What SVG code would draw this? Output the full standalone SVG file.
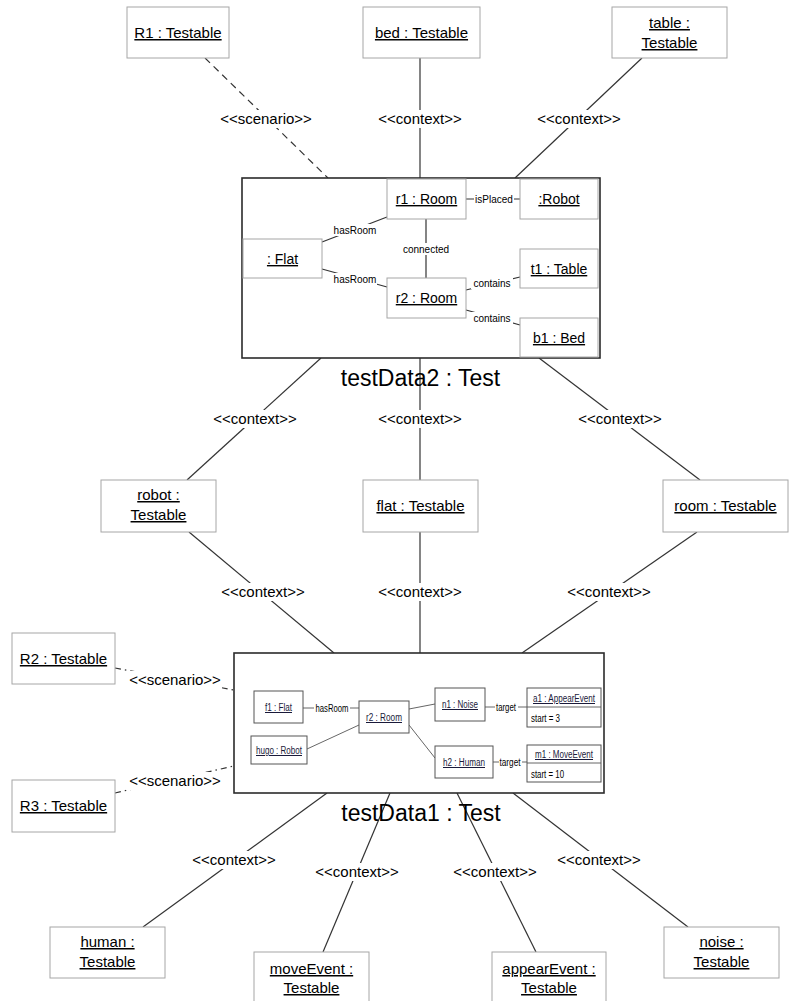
<svg xmlns="http://www.w3.org/2000/svg" width="798" height="1001" viewBox="0 0 798 1001">
<style>
text{font-family:"Liberation Sans",Arial,sans-serif;fill:#000;text-anchor:middle}
.obj{fill:#fff;stroke:#a6a6a6;stroke-width:1}
.big{fill:#fff;stroke:#2b2b2b;stroke-width:1.6}
.tn{font-size:15px;text-decoration:underline}
.in{font-size:14px;text-decoration:underline}
.st{font-size:15px}
.sm{font-size:10px}
.ln{stroke:#333;stroke-width:1.2;fill:none}
.dash{stroke:#333;stroke-width:1.2;fill:none;stroke-dasharray:7 5}
.dd{stroke:#333;stroke-width:1.2;fill:none;stroke-dasharray:6 4 1.5 4}
.bg{fill:#fff}
.title{font-size:23px}
.mini{fill:#fff;stroke:#555;stroke-width:1}
.mt{font-size:10px;text-decoration:underline;fill:#1a1a3a}
.ml{font-size:10px}
.mln{stroke:#555;stroke-width:0.9;fill:none}
</style>

<!-- connectors between testables and tests -->
<g id="connectors">
  <line class="dash" x1="205" y1="58" x2="328" y2="178"/>
  <line class="ln" x1="420" y1="58" x2="420" y2="178"/>
  <line class="ln" x1="642" y1="58" x2="515" y2="178"/>
  <rect class="bg" x="219" y="110" width="94" height="18"/>
  <rect class="bg" x="378" y="110" width="84" height="18"/>
  <rect class="bg" x="537" y="110" width="84" height="18"/>
  <text class="st" x="266" y="124">&lt;&lt;scenario&gt;&gt;</text>
  <text class="st" x="420" y="124">&lt;&lt;context&gt;&gt;</text>
  <text class="st" x="579" y="124">&lt;&lt;context&gt;&gt;</text>

  <line class="ln" x1="321" y1="358" x2="187" y2="480"/>
  <line class="ln" x1="420" y1="358" x2="420" y2="480"/>
  <line class="ln" x1="539" y1="358" x2="700" y2="480"/>
  <rect class="bg" x="213" y="410" width="84" height="18"/>
  <rect class="bg" x="378" y="410" width="84" height="18"/>
  <rect class="bg" x="578" y="410" width="84" height="18"/>
  <text class="st" x="255" y="424">&lt;&lt;context&gt;&gt;</text>
  <text class="st" x="420" y="424">&lt;&lt;context&gt;&gt;</text>
  <text class="st" x="620" y="424">&lt;&lt;context&gt;&gt;</text>

  <line class="ln" x1="189" y1="532" x2="334" y2="653"/>
  <line class="ln" x1="420" y1="532" x2="420" y2="653"/>
  <line class="ln" x1="697" y1="532" x2="522" y2="653"/>
  <rect class="bg" x="221" y="583" width="84" height="18"/>
  <rect class="bg" x="378" y="583" width="84" height="18"/>
  <rect class="bg" x="567" y="583" width="84" height="18"/>
  <text class="st" x="263" y="597">&lt;&lt;context&gt;&gt;</text>
  <text class="st" x="420" y="597">&lt;&lt;context&gt;&gt;</text>
  <text class="st" x="609" y="597">&lt;&lt;context&gt;&gt;</text>

  <line class="dd" x1="115" y1="668" x2="234" y2="690"/>
  <line class="dd" x1="115" y1="793" x2="234" y2="766"/>
  <rect class="bg" x="128" y="671" width="94" height="18"/>
  <rect class="bg" x="128" y="772" width="94" height="18"/>
  <text class="st" x="175" y="685">&lt;&lt;scenario&gt;&gt;</text>
  <text class="st" x="175" y="786">&lt;&lt;scenario&gt;&gt;</text>

  <line class="ln" x1="327" y1="793" x2="143" y2="927"/>
  <line class="ln" x1="390" y1="793" x2="323" y2="952"/>
  <line class="ln" x1="457" y1="793" x2="536" y2="952"/>
  <line class="ln" x1="513" y1="793" x2="688" y2="927"/>
  <rect class="bg" x="192" y="851" width="84" height="18"/>
  <rect class="bg" x="315" y="863" width="84" height="18"/>
  <rect class="bg" x="453" y="863" width="84" height="18"/>
  <rect class="bg" x="557" y="851" width="84" height="18"/>
  <text class="st" x="234" y="865">&lt;&lt;context&gt;&gt;</text>
  <text class="st" x="357" y="877">&lt;&lt;context&gt;&gt;</text>
  <text class="st" x="495" y="877">&lt;&lt;context&gt;&gt;</text>
  <text class="st" x="599" y="865">&lt;&lt;context&gt;&gt;</text>
</g>

<!-- top testables -->
<g id="R1"><rect class="obj" x="127" y="7" width="102" height="51"/><text class="tn" x="178" y="38">R1 : Testable</text></g>
<g id="bed"><rect class="obj" x="363" y="7" width="117" height="51"/><text class="tn" x="421.5" y="38">bed : Testable</text></g>
<g id="table"><rect class="obj" x="612" y="7" width="115" height="51"/><text class="tn" x="669.5" y="28">table :</text><text class="tn" x="669.5" y="48">Testable</text></g>

<!-- testData2 -->
<g id="testData2">
  <rect class="big" x="242" y="178" width="358" height="180"/>
  <g id="td2-links">
    <line class="ln" x1="466" y1="199" x2="520" y2="199"/>
    <line class="ln" x1="426" y1="219" x2="426" y2="278"/>
    <line class="ln" x1="322" y1="242" x2="387" y2="217"/>
    <line class="ln" x1="322" y1="269" x2="387" y2="287"/>
    <line class="ln" x1="466" y1="290" x2="520" y2="277"/>
    <line class="ln" x1="466" y1="310" x2="520" y2="325"/>
    <rect class="bg" x="474" y="193" width="40" height="12"/>
    <rect class="bg" x="402" y="243" width="48" height="12"/>
    <rect class="bg" x="333" y="224" width="44" height="12"/>
    <rect class="bg" x="333" y="273" width="44" height="12"/>
    <rect class="bg" x="471" y="277" width="42" height="12"/>
    <rect class="bg" x="471" y="312" width="42" height="12"/>
    <text class="sm" x="494" y="203">isPlaced</text>
    <text class="sm" x="426" y="253">connected</text>
    <text class="sm" x="355" y="234">hasRoom</text>
    <text class="sm" x="355" y="283">hasRoom</text>
    <text class="sm" x="492" y="287">contains</text>
    <text class="sm" x="492" y="322">contains</text>
  </g>
  <g id="td2-r1"><rect class="obj" x="387" y="179" width="79" height="40"/><text class="in" x="426.5" y="204">r1 : Room</text></g>
  <g id="td2-robot"><rect class="obj" x="520" y="179" width="78" height="40"/><text class="in" x="559" y="204">:Robot</text></g>
  <g id="td2-flat"><rect class="obj" x="243" y="239" width="79" height="39"/><text class="in" x="282.5" y="264">: Flat</text></g>
  <g id="td2-t1"><rect class="obj" x="520" y="249" width="78" height="39"/><text class="in" x="559" y="274">t1 : Table</text></g>
  <g id="td2-r2"><rect class="obj" x="387" y="278" width="79" height="40"/><text class="in" x="426.5" y="303">r2 : Room</text></g>
  <g id="td2-b1"><rect class="obj" x="520" y="318" width="78" height="39"/><text class="in" x="559" y="343">b1 : Bed</text></g>
  <text class="title" x="420.5" y="386">testData2 : Test</text>
</g>

<!-- middle testables -->
<g id="robot"><rect class="obj" x="101" y="480" width="115" height="52"/><text class="tn" x="158.5" y="500">robot :</text><text class="tn" x="158.5" y="520">Testable</text></g>
<g id="flat"><rect class="obj" x="363" y="480" width="115" height="52"/><text class="tn" x="420.5" y="511">flat : Testable</text></g>
<g id="room"><rect class="obj" x="663" y="480" width="125" height="52"/><text class="tn" x="725.5" y="511">room : Testable</text></g>

<!-- left testables -->
<g id="R2"><rect class="obj" x="12" y="633" width="103" height="51"/><text class="tn" x="63.5" y="664">R2 : Testable</text></g>
<g id="R3"><rect class="obj" x="12" y="780" width="103" height="52"/><text class="tn" x="63.5" y="811">R3 : Testable</text></g>

<!-- testData1 -->
<g id="testData1">
  <rect class="big" x="234" y="653" width="370" height="140"/>
  <g id="td1-links">
    <line class="mln" x1="303" y1="708" x2="359" y2="708"/>
    <line class="mln" x1="307" y1="749" x2="359" y2="725"/>
    <line class="mln" x1="409" y1="709" x2="435" y2="704"/>
    <line class="mln" x1="409" y1="725" x2="435" y2="758"/>
    <line class="mln" x1="485" y1="707" x2="527" y2="707"/>
    <line class="mln" x1="493" y1="762" x2="527" y2="762"/>
    <rect class="bg" x="314" y="702" width="36" height="11"/>
    <rect class="bg" x="495" y="701" width="23" height="11"/>
    <rect class="bg" x="499" y="756" width="23" height="11"/>
    <text class="ml" x="332" y="712" textLength="33" lengthAdjust="spacingAndGlyphs">hasRoom</text>
    <text class="ml" x="506" y="711" textLength="20" lengthAdjust="spacingAndGlyphs">target</text>
    <text class="ml" x="510" y="766" textLength="21" lengthAdjust="spacingAndGlyphs">target</text>
  </g>
  <g id="td1-f1"><rect class="mini" x="254" y="691" width="49" height="32"/><text class="mt" x="278.5" y="711" textLength="27" lengthAdjust="spacingAndGlyphs">f1 : Flat</text></g>
  <g id="td1-hugo"><rect class="mini" x="251" y="736" width="56" height="28"/><text class="mt" x="279" y="754" textLength="46" lengthAdjust="spacingAndGlyphs">hugo : Robot</text></g>
  <g id="td1-r2"><rect class="mini" x="359" y="701" width="50" height="32"/><text class="mt" x="384" y="721" textLength="36" lengthAdjust="spacingAndGlyphs">r2 : Room</text></g>
  <g id="td1-n1"><rect class="mini" x="435" y="688" width="50" height="33"/><text class="mt" x="460" y="708" textLength="36" lengthAdjust="spacingAndGlyphs">n1 : Noise</text></g>
  <g id="td1-h2"><rect class="mini" x="435" y="746" width="58" height="32"/><text class="mt" x="464" y="766" textLength="42" lengthAdjust="spacingAndGlyphs">h2 : Human</text></g>
  <g id="td1-a1"><rect class="mini" x="527" y="688" width="74" height="39"/><line class="mln" x1="527" y1="707" x2="601" y2="707"/><text class="mt" x="564" y="702" textLength="62" lengthAdjust="spacingAndGlyphs">a1 : AppearEvent</text><text class="ml" x="531" y="722" style="text-anchor:start" textLength="29" lengthAdjust="spacingAndGlyphs">start = 3</text></g>
  <g id="td1-m1"><rect class="mini" x="527" y="745" width="74" height="37"/><line class="mln" x1="527" y1="763" x2="601" y2="763"/><text class="mt" x="564" y="758" textLength="58" lengthAdjust="spacingAndGlyphs">m1 : MoveEvent</text><text class="ml" x="531" y="778" style="text-anchor:start" textLength="33" lengthAdjust="spacingAndGlyphs">start = 10</text></g>
  <text class="title" x="421" y="821">testData1 : Test</text>
</g>

<!-- bottom testables -->
<g id="human"><rect class="obj" x="50" y="927" width="115" height="51"/><text class="tn" x="107.5" y="947">human :</text><text class="tn" x="107.5" y="967">Testable</text></g>
<g id="moveEvent"><rect class="obj" x="254" y="952" width="115" height="60"/><text class="tn" x="311.5" y="974">moveEvent :</text><text class="tn" x="311.5" y="993">Testable</text></g>
<g id="appearEvent"><rect class="obj" x="492" y="952" width="114" height="60"/><text class="tn" x="549" y="974">appearEvent :</text><text class="tn" x="549" y="993">Testable</text></g>
<g id="noise"><rect class="obj" x="664" y="927" width="115" height="51"/><text class="tn" x="721.5" y="947">noise :</text><text class="tn" x="721.5" y="967">Testable</text></g>
</svg>
